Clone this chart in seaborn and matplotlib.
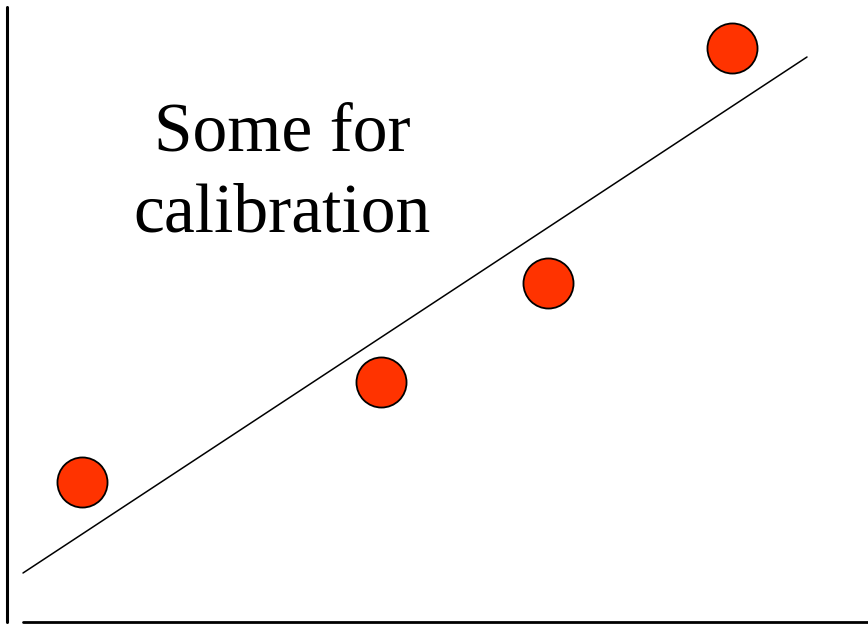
import matplotlib.pyplot as plt
import seaborn as sns
import pandas as pd

# calibration points and fitted line (units: pixel-like, y up)
point_x = [82, 381, 548, 732]
point_y = [142, 242, 341, 576]
fit_x = [23, 807]
fit_y = [51, 567]

pts = pd.DataFrame({'x': point_x, 'y': point_y})
fit = pd.DataFrame({'x': fit_x, 'y': fit_y})

sns.set_style('white')
plt.rcParams['font.family'] = 'serif'
plt.rcParams['font.serif'] = ['Liberation Serif', 'Times New Roman', 'DejaVu Serif']

fig = plt.figure(figsize=(8.68, 6.24), dpi=100)
ax = fig.add_axes([0, 0, 1, 1])

sns.lineplot(data=fit, x='x', y='y', color='black', linewidth=1.1, ax=ax)
sns.scatterplot(data=pts, x='x', y='y', s=1300, color='#FF3300',
                edgecolor='black', linewidth=1.3, zorder=3, ax=ax)

ax.set_xlim(0, 868)
ax.set_ylim(0, 624)
for s in ax.spines.values():
    s.set_visible(False)
ax.set_xticks([])
ax.set_yticks([])
ax.set_xlabel('')
ax.set_ylabel('')

# axis lines
ax.axvline(6.5, ymin=2 / 624, ymax=617 / 624, color='black', linewidth=2.2)
ax.axhline(2, xmin=23 / 868, xmax=1, color='black', linewidth=2.0)

ax.text(282, 450, 'Some for\ncalibration', fontsize=50, ha='center', va='center',
        linespacing=1.37, color='black', fontfamily='Liberation Serif')

fig.savefig('out.png', dpi=100)
